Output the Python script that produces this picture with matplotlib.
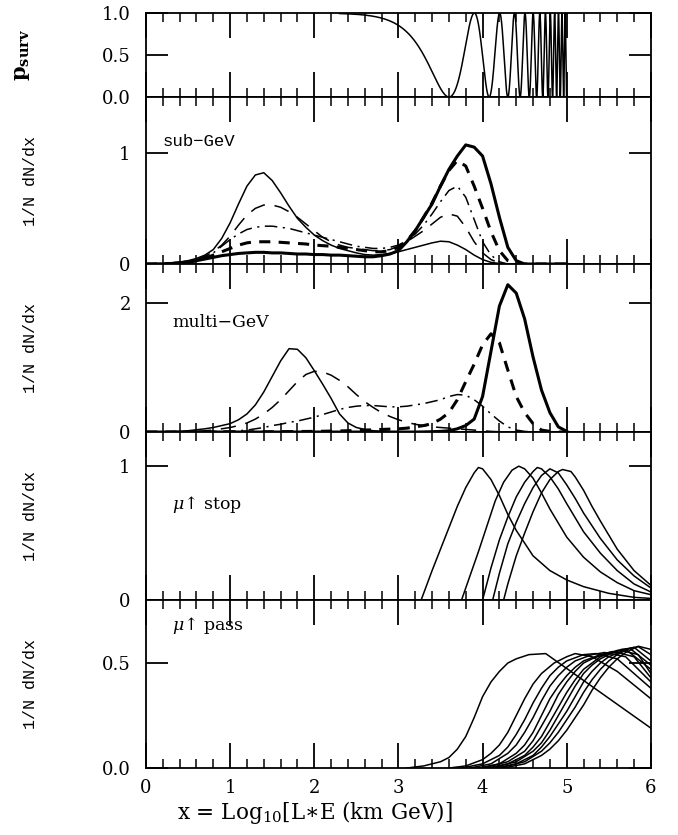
import numpy as np
import matplotlib
matplotlib.use("Agg")
import matplotlib.pyplot as plt
from matplotlib.ticker import MultipleLocator, FixedLocator

plt.rcParams['lines.scale_dashes'] = False
plt.rcParams['mathtext.fontset'] = 'dejavuserif'
SERIF = ['DejaVu Serif']
MONO = ['Liberation Mono', 'DejaVu Sans Mono']

# ---------------- data ----------------
# survival probability: p = 1 - sin^2(2θ) sin^2(1.27 dm2 * 10^x)
sin2_2theta = 1.0
dm2 = 3.1e-4
psurv_xmin, psurv_xmax = 2.3, 5.0

grid = [0.0, 0.1, 0.2, 0.3, 0.4, 0.5, 0.6, 0.7, 0.8, 0.9,
        1.0, 1.1, 1.2, 1.3, 1.4, 1.5, 1.6, 1.7, 1.8, 1.9,
        2.0, 2.1, 2.2, 2.3, 2.4, 2.5, 2.6, 2.7, 2.8, 2.9,
        3.0, 3.1, 3.2, 3.3, 3.4, 3.5, 3.6, 3.7, 3.8, 3.9,
        4.0, 4.1, 4.2, 4.3, 4.4, 4.5, 4.6, 4.7, 4.8, 4.9, 5.0]

sub_bin1 = [0.0, 0.003, 0.006, 0.01, 0.018, 0.03, 0.05, 0.08, 0.13, 0.23,
            0.37, 0.54, 0.7, 0.8, 0.82, 0.75, 0.64, 0.52, 0.41, 0.33,
            0.26, 0.21, 0.17, 0.14, 0.12, 0.1, 0.085, 0.08, 0.085, 0.095,
            0.11, 0.13, 0.15, 0.17, 0.19, 0.205, 0.2, 0.17, 0.13, 0.08,
            0.04, 0.015, 0.005, 0, 0, 0, 0, 0, 0, 0, 0]
sub_bin2 = [0.0, 0.002, 0.005, 0.01, 0.015, 0.025, 0.04, 0.07, 0.11, 0.17,
            0.25, 0.35, 0.44, 0.5, 0.53, 0.53, 0.51, 0.47, 0.42, 0.36,
            0.3, 0.24, 0.2, 0.17, 0.15, 0.14, 0.13, 0.12, 0.12, 0.13,
            0.16, 0.2, 0.25, 0.3, 0.36, 0.42, 0.45, 0.43, 0.33, 0.2,
            0.1, 0.04, 0.01, 0, 0, 0, 0, 0, 0, 0, 0]
sub_bin3 = [0.0, 0.001, 0.003, 0.006, 0.01, 0.02, 0.035, 0.06, 0.1, 0.16,
            0.22, 0.27, 0.31, 0.33, 0.34, 0.34, 0.33, 0.32, 0.3, 0.28,
            0.26, 0.24, 0.22, 0.2, 0.18, 0.16, 0.15, 0.14, 0.14, 0.15,
            0.17, 0.21, 0.27, 0.35, 0.45, 0.56, 0.66, 0.7, 0.6, 0.4,
            0.2, 0.08, 0.02, 0, 0, 0, 0, 0, 0, 0, 0]
sub_bin4 = [0.0, 0.001, 0.002, 0.004, 0.008, 0.015, 0.03, 0.05, 0.08, 0.11,
            0.14, 0.17, 0.19, 0.2, 0.2, 0.2, 0.195, 0.19, 0.185, 0.18,
            0.17, 0.165, 0.16, 0.15, 0.14, 0.13, 0.12, 0.11, 0.11, 0.12,
            0.15, 0.21, 0.3, 0.42, 0.55, 0.7, 0.84, 0.93, 0.88, 0.7,
            0.5, 0.29, 0.12, 0.03, 0, 0, 0, 0, 0, 0, 0]
sub_bin5 = [0.0, 0.0, 0.0, 0.005, 0.01, 0.02, 0.03, 0.045, 0.06, 0.075,
            0.085, 0.095, 0.1, 0.105, 0.105, 0.1, 0.1, 0.095, 0.09, 0.09,
            0.085, 0.085, 0.08, 0.08, 0.075, 0.07, 0.065, 0.065, 0.075, 0.09,
            0.12, 0.2, 0.3, 0.42, 0.54, 0.7, 0.85, 0.97, 1.07, 1.05,
            0.97, 0.72, 0.42, 0.15, 0.03, 0, 0, 0, 0, 0, 0]

multi_bin1 = [0.0, 0.001, 0.003, 0.006, 0.01, 0.02, 0.035, 0.05, 0.07, 0.1,
              0.13, 0.19, 0.28, 0.42, 0.62, 0.86, 1.1, 1.29, 1.28, 1.15,
              0.95, 0.74, 0.52, 0.28, 0.14, 0.07, 0.04, 0.02, 0.01, 0.005,
              0.002, 0, 0, 0, 0, 0, 0, 0, 0, 0,
              0, 0, 0, 0, 0, 0, 0, 0, 0, 0, 0]
multi_bin2 = [0.0, 0.0, 0.001, 0.002, 0.003, 0.005, 0.01, 0.02, 0.03, 0.05,
              0.07, 0.1, 0.14, 0.2, 0.28, 0.38, 0.5, 0.64, 0.78, 0.89,
              0.94, 0.93, 0.88, 0.8, 0.7, 0.58, 0.47, 0.38, 0.3, 0.24,
              0.19, 0.15, 0.12, 0.1, 0.08, 0.07, 0.06, 0.05, 0.04, 0.03,
              0.02, 0.01, 0.005, 0, 0, 0, 0, 0, 0, 0, 0]
multi_bin3 = [0.0, 0.0, 0.0, 0.0, 0.001, 0.002, 0.003, 0.005, 0.007, 0.01,
              0.01, 0.02, 0.03, 0.05, 0.07, 0.1, 0.12, 0.15, 0.17, 0.2,
              0.23, 0.27, 0.31, 0.35, 0.38, 0.4, 0.41, 0.41, 0.4, 0.39,
              0.39, 0.4, 0.42, 0.44, 0.47, 0.5, 0.55, 0.58, 0.57, 0.5,
              0.4, 0.28, 0.17, 0.08, 0.03, 0.01, 0, 0, 0, 0, 0]
multi_bin4 = [0.0, 0.0, 0.0, 0.0, 0.0, 0.0, 0.001, 0.001, 0.001, 0.002,
              0.002, 0.002, 0.003, 0.003, 0.004, 0.005, 0.006, 0.007, 0.008, 0.009,
              0.01, 0.012, 0.015, 0.017, 0.02, 0.025, 0.03, 0.035, 0.04, 0.045,
              0.05, 0.06, 0.08, 0.1, 0.13, 0.2, 0.3, 0.5, 0.78, 1.05,
              1.35, 1.52, 1.38, 0.96, 0.55, 0.3, 0.13, 0.03, 0.01, 0, 0]
multi_bin5 = [0, 0, 0, 0, 0, 0, 0, 0, 0, 0,
              0, 0, 0, 0, 0, 0, 0, 0, 0, 0,
              0, 0, 0, 0, 0, 0, 0, 0, 0, 0,
              0, 0, 0, 0.002, 0.005, 0.01, 0.02, 0.05, 0.1, 0.2,
              0.55, 1.25, 1.95, 2.28, 2.15, 1.75, 1.16, 0.65, 0.3, 0.08, 0.01]

stop_x = [
    [3.27, 3.4, 3.5, 3.6, 3.7, 3.8, 3.9, 3.95, 4.0, 4.1, 4.2, 4.3, 4.4, 4.6, 4.8, 5.0, 5.2, 5.5, 5.8, 6.0],
    [3.75, 3.85, 3.95, 4.05, 4.15, 4.25, 4.35, 4.43, 4.5, 4.6, 4.7, 4.8, 5.0, 5.2, 5.4, 5.6, 5.8, 6.0],
    [4.0, 4.1, 4.2, 4.3, 4.4, 4.5, 4.6, 4.65, 4.7, 4.8, 4.9, 5.0, 5.2, 5.4, 5.6, 5.8, 6.0],
    [4.12, 4.2, 4.3, 4.4, 4.5, 4.6, 4.7, 4.8, 4.9, 5.0, 5.1, 5.2, 5.4, 5.6, 5.8, 6.0],
    [4.25, 4.3, 4.4, 4.5, 4.6, 4.7, 4.8, 4.9, 4.95, 5.05, 5.1, 5.2, 5.3, 5.4, 5.6, 5.8, 6.0],
]
stop_y = [
    [0, 0.22, 0.38, 0.54, 0.7, 0.84, 0.95, 0.99, 0.98, 0.9, 0.78, 0.64, 0.52, 0.33, 0.22, 0.15, 0.1, 0.05, 0.02, 0.012],
    [0, 0.18, 0.36, 0.55, 0.74, 0.88, 0.97, 1.0, 0.98, 0.91, 0.8, 0.68, 0.47, 0.32, 0.21, 0.13, 0.07, 0.04],
    [0, 0.24, 0.45, 0.62, 0.77, 0.88, 0.96, 0.99, 0.98, 0.92, 0.83, 0.72, 0.51, 0.35, 0.22, 0.12, 0.06],
    [0, 0.2, 0.42, 0.58, 0.72, 0.84, 0.93, 0.98, 0.95, 0.86, 0.76, 0.65, 0.46, 0.3, 0.18, 0.09],
    [0, 0.12, 0.33, 0.5, 0.66, 0.8, 0.9, 0.96, 0.975, 0.96, 0.92, 0.82, 0.7, 0.59, 0.38, 0.22, 0.11],
]

pass_x = [
    [3.1, 3.3, 3.5, 3.6, 3.7, 3.8, 3.9, 4.0, 4.1, 4.2, 4.3, 4.4, 4.55, 4.75, 6.0],
    [3.6, 3.8, 4.0, 4.1, 4.2, 4.3, 4.4, 4.5, 4.6, 4.7, 4.85, 5.0, 5.1, 5.3, 5.6, 6.0],
    [3.75, 4.0, 4.2, 4.3, 4.4, 4.5, 4.6, 4.7, 4.8, 4.9, 5.0, 5.2, 5.35, 5.6, 6.0],
    [3.85, 4.1, 4.3, 4.4, 4.5, 4.6, 4.7, 4.8, 4.9, 5.0, 5.1, 5.3, 5.45, 5.7, 6.0],
    [3.95, 4.2, 4.4, 4.5, 4.6, 4.7, 4.8, 4.9, 5.0, 5.1, 5.2, 5.4, 5.55, 5.8, 6.0],
    [4.0, 4.3, 4.5, 4.6, 4.7, 4.8, 4.9, 5.0, 5.1, 5.2, 5.3, 5.5, 5.65, 5.85, 6.0],
    [4.05, 4.3, 4.5, 4.6, 4.7, 4.8, 4.9, 5.0, 5.1, 5.2, 5.3, 5.4, 5.6, 5.7, 6.0],
    [4.1, 4.4, 4.6, 4.7, 4.8, 4.9, 5.0, 5.1, 5.2, 5.3, 5.4, 5.5, 5.65, 5.75, 6.0],
    [4.15, 4.4, 4.6, 4.7, 4.8, 4.9, 5.0, 5.1, 5.2, 5.3, 5.4, 5.5, 5.7, 5.8, 6.0],
    [4.2, 4.5, 4.7, 4.8, 4.9, 5.0, 5.1, 5.2, 5.3, 5.4, 5.5, 5.6, 5.75, 5.85, 6.0],
    [4.25, 4.5, 4.7, 4.8, 4.9, 5.0, 5.1, 5.2, 5.3, 5.4, 5.5, 5.6, 5.7, 5.85, 6.0],
]
pass_y = [
    [0, 0.01, 0.03, 0.05, 0.09, 0.15, 0.24, 0.34, 0.41, 0.46, 0.5, 0.52, 0.54, 0.545, 0.19],
    [0, 0.01, 0.04, 0.07, 0.11, 0.17, 0.25, 0.33, 0.4, 0.45, 0.5, 0.53, 0.545, 0.53, 0.46, 0.33],
    [0, 0.02, 0.06, 0.1, 0.16, 0.23, 0.31, 0.38, 0.44, 0.48, 0.51, 0.54, 0.545, 0.52, 0.38],
    [0, 0.02, 0.07, 0.11, 0.17, 0.24, 0.32, 0.39, 0.44, 0.48, 0.51, 0.54, 0.55, 0.53, 0.41],
    [0, 0.02, 0.07, 0.11, 0.17, 0.25, 0.33, 0.39, 0.44, 0.48, 0.51, 0.54, 0.555, 0.53, 0.43],
    [0, 0.03, 0.08, 0.13, 0.2, 0.27, 0.35, 0.41, 0.46, 0.5, 0.52, 0.55, 0.56, 0.54, 0.45],
    [0, 0.02, 0.06, 0.1, 0.15, 0.22, 0.29, 0.36, 0.42, 0.47, 0.5, 0.53, 0.56, 0.565, 0.47],
    [0, 0.03, 0.08, 0.12, 0.18, 0.25, 0.32, 0.39, 0.45, 0.49, 0.52, 0.54, 0.565, 0.57, 0.49],
    [0, 0.02, 0.06, 0.1, 0.15, 0.21, 0.27, 0.34, 0.41, 0.46, 0.5, 0.53, 0.565, 0.575, 0.51],
    [0, 0.03, 0.08, 0.12, 0.17, 0.23, 0.29, 0.36, 0.42, 0.47, 0.51, 0.54, 0.57, 0.578, 0.54],
    [0, 0.02, 0.06, 0.09, 0.13, 0.18, 0.24, 0.3, 0.37, 0.43, 0.48, 0.52, 0.55, 0.58, 0.565],
]

panel_labels = ["sub\u2212GeV", "multi\u2212GeV", "$\\mu$\u2191 stop", "$\\mu$\u2191 pass"]
x_ticks = [0, 1, 2, 3, 4, 5, 6]

# ---------------- figure ----------------
fig = plt.figure(figsize=(6.78, 8.35), dpi=100)
gs = fig.add_gridspec(5, 1, height_ratios=[84, 167, 168, 168, 168], hspace=0,
                      left=0.2153, right=0.960, top=0.9844, bottom=0.0802)
axes = [fig.add_subplot(gs[i]) for i in range(5)]

ylims = [(0, 1.0), (0, 1.5), (0, 2.6), (0, 1.255), (0, 0.8)]
yticks = [[0.0, 0.5, 1.0], [0, 1], [0, 2], [0, 1], [0.0, 0.5]]
ytl = [["0.0", "0.5", "1.0"], ["0", "1"], ["0", "2"], ["0", "1"], ["0.0", "0.5"]]

for i, ax in enumerate(axes):
    ax.set_xlim(0, 6)
    ax.set_ylim(*ylims[i])
    for s in ax.spines.values():
        s.set_linewidth(1.3)
    ax.xaxis.set_major_locator(FixedLocator(x_ticks))
    ax.xaxis.set_minor_locator(MultipleLocator(0.2))
    ax.yaxis.set_major_locator(FixedLocator(yticks[i]))
    ax.set_yticklabels(ytl[i], fontfamily=SERIF, fontsize=13)
    ax.tick_params(axis='x', which='major', direction='in', length=18, width=1.3,
                   top=True, bottom=True)
    ax.tick_params(axis='x', which='minor', direction='in', length=6.5, width=1.1,
                   top=True, bottom=True)
    ax.tick_params(axis='y', which='major', direction='in', length=16, width=1.3,
                   left=True, right=True, pad=11)
    if i < 4:
        ax.tick_params(axis='x', labelbottom=False)
    else:
        ax.set_xticklabels([str(t) for t in x_ticks], fontfamily=SERIF, fontsize=13)
        ax.tick_params(axis='x', pad=8)

# panel 1: survival probability
ax = axes[0]
xs = np.linspace(psurv_xmin, psurv_xmax, 6000)
ps = 1 - sin2_2theta * np.sin(1.27 * dm2 * 10 ** xs) ** 2
ax.plot(xs, ps, color='black', lw=1.1)
ax.set_ylabel(r"$\mathbf{p}_{\mathbf{surv}}$", fontsize=15, labelpad=0)
ax.yaxis.set_label_coords(-0.226, 0.5)

LONG = (0, (11, 7))
DASHDOT = (0, (9, 4, 1.5, 4))
THICKDASH = (0, (8, 6))

def draw_bins(ax, b1, b2, b3, b4, b5):
    ax.plot(grid, b1, color='black', lw=1.1)
    ax.plot(grid, b2, color='black', lw=1.1, linestyle=LONG)
    ax.plot(grid, b3, color='black', lw=1.1, linestyle=DASHDOT)
    ax.plot(grid, b4, color='black', lw=2.2, linestyle=THICKDASH)
    ax.plot(grid, b5, color='black', lw=2.2)

draw_bins(axes[1], sub_bin1, sub_bin2, sub_bin3, sub_bin4, sub_bin5)
draw_bins(axes[2], multi_bin1, multi_bin2, multi_bin3, multi_bin4, multi_bin5)

for xv, yv in zip(stop_x, stop_y):
    axes[3].plot(xv, yv, color='black', lw=1.1)
for xv, yv in zip(pass_x, pass_y):
    axes[4].plot(xv, yv, color='black', lw=1.1)

axes[1].text(0.2, 1.1, panel_labels[0], fontfamily=MONO, fontsize=12.5, va='center')
axes[2].text(0.31, 1.69, panel_labels[1], fontfamily=SERIF, fontsize=12.5, va='center')
axes[3].text(0.31, 0.71, panel_labels[2], fontfamily=SERIF, fontsize=12.5, va='center')
axes[4].text(0.31, 0.68, panel_labels[3], fontfamily=SERIF, fontsize=12.5, va='center')

for ax in axes[1:]:
    ax.set_ylabel("1/N dN/dx", fontfamily=MONO, fontsize=12)
    ax.yaxis.set_label_coords(-0.214, 0.5)

axes[4].set_xlabel(r"x = Log$_{10}$[L$\ast$E (km GeV)]", fontfamily=SERIF, fontsize=15.5)
axes[4].xaxis.set_label_coords(0.335, -0.185)

fig.savefig("out.png", dpi=100)
